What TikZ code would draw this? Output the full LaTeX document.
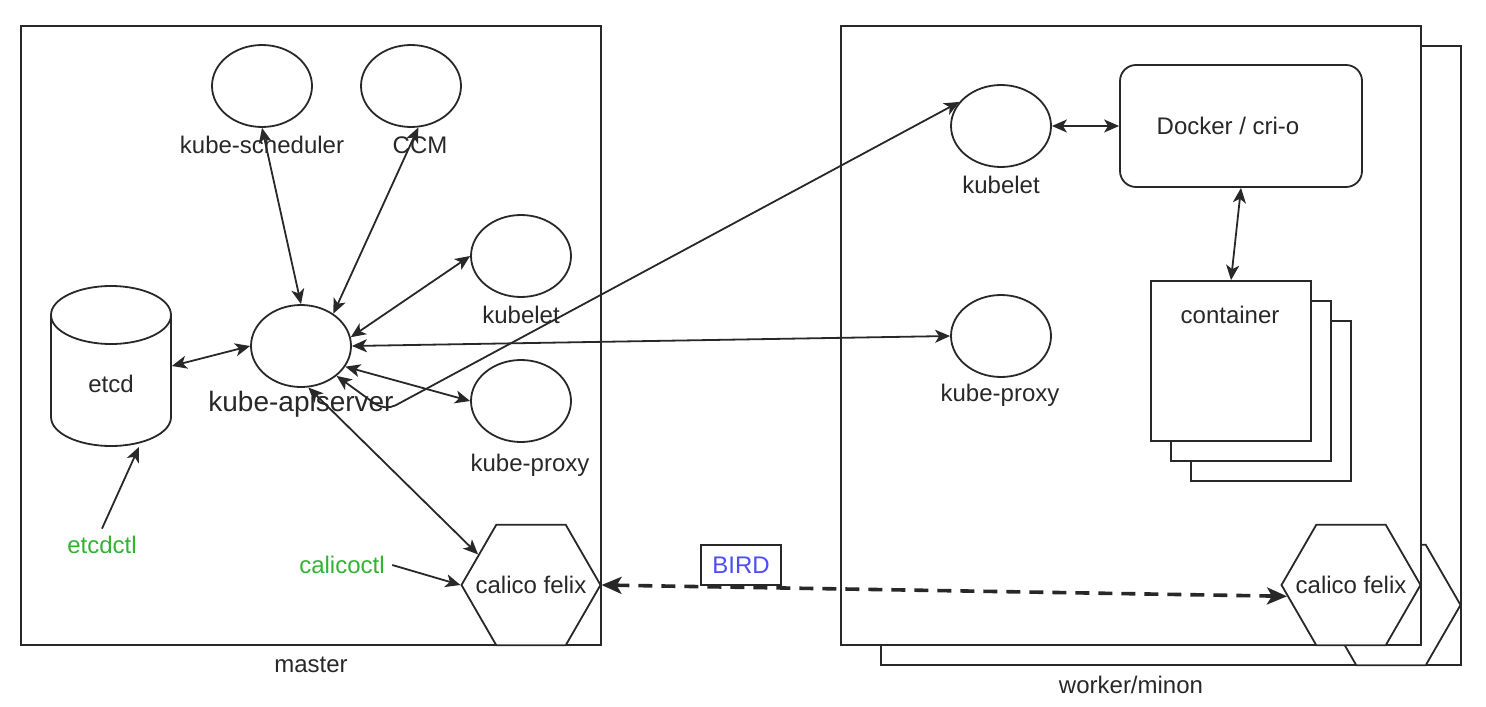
\documentclass[tikz,border=0pt]{standalone}
\usepackage{fontspec}
\setmainfont{Liberation Sans}
\usetikzlibrary{shapes.geometric, arrows.meta}
\definecolor{ink}{RGB}{40,40,40}
\definecolor{ctlgreen}{RGB}{51,178,51}
\definecolor{birdblue}{RGB}{77,77,255}

\begin{document}
\begin{tikzpicture}[x=0.5pt, y=-0.5pt, line width=0.9pt, color=ink,
	every node/.style={font=\fontsize{12}{14}\selectfont},
	ell/.style={ellipse, draw, minimum width=50pt, minimum height=41pt, inner sep=0pt},
	hexa/.style={regular polygon, regular polygon sides=6, draw, fill=white, minimum size=69.5pt, inner sep=0pt},
	arr/.style={-{Stealth[length=7.5pt,width=6.5pt,inset=2pt]}},
	biarr/.style={{Stealth[length=7.5pt,width=6.5pt,inset=2pt]}-{Stealth[length=7.5pt,width=6.5pt,inset=2pt]}},
	birdarr/.style={{Stealth[length=10pt,width=8.5pt,inset=2.5pt]}-{Stealth[length=10pt,width=8.5pt,inset=2.5pt]}, line width=1.8pt, dash pattern=on 7pt off 4.5pt},
	box/.style={line width=1pt}]
			\useasboundingbox (0,0) rectangle (1486,706);
			% master
			\draw[box] (21,26) rectangle (601,645);
			\node (masterT) at (311,665) {master};
			\node[ell] (sched) at (262,86) {};
			\node (schedT) at (262,145) {kube-scheduler};
			\node[ell] (ccm) at (411,86) {};
			\node (ccmT) at (420,145) {CCM};
			\node[ell] (api) at (301,346) {};
			\node[font=\fontsize{14}{16}\selectfont] (apiT) at (301,404) {kube-apiserver};
			\node[ell] (kubeletM) at (521,256) {};
			\node (kubeletMT) at (521,315) {kubelet};
			\node[ell] (proxyM) at (521,401) {};
			\node (proxyMT) at (530,465) {kube-proxy};
			\draw[fill=white] (51,315) -- (51,417) arc[start angle=180, end angle=360, x radius=30pt, y radius=14.5pt] -- (171,315);
			\draw (111,315) ellipse[x radius=30pt, y radius=14.5pt];
			\node[minimum width=60pt, minimum height=80pt, inner sep=0pt, label={[yshift=-9pt]center:etcd}] (etcd) at (111,366) {};
			\node[text=ctlgreen] (etcdctl) at (102,545) {etcdctl};
			\node[text=ctlgreen] (calicoctl) at (342,565) {calicoctl};
			\node[hexa, label=center:calico felix] (felixM) at (531,585) {};
			% worker, with the copy behind it
			\draw[box] (881,46) rectangle (1461,665);
			\node[hexa] (felixB) at (1391,605) {};
			\draw[box, fill=white] (841,26) rectangle (1421,645);
			\node (workerT) at (1131,685) {worker/minon};
			\node[hexa, label=center:calico felix] (felixW) at (1351,585) {};
			\node[ell] (kubeletW) at (1001,126) {};
			\node (kubeletWT) at (1001,185) {kubelet};
			\node[ell] (proxyW) at (1001,336) {};
			\node (proxyWT) at (1000,395) {kube-proxy};
			\node[draw, rounded corners=8pt, minimum width=121pt, minimum height=61pt, label={[xshift=-6.5pt]center:Docker / cri-o}] (docker) at (1241,126) {};
			\foreach \d in {40,20}
				\draw[fill=white] (1151+\d,281+\d) rectangle (1311+\d,441+\d);
			\node[draw, fill=white, minimum width=80pt, minimum height=80pt, inner sep=0pt] (cont) at (1231,361) {};
			\node (contT) at (1230,315) {container};
			\node[draw, fill=white, text=birdblue, minimum width=40pt, minimum height=20pt, inner sep=0pt] (bird) at (741,565) {BIRD};
			% connectors
			\draw[biarr] (api.west) -- (etcd.east);
			\draw[biarr] (sched.south) -- (api.north);
			\draw[biarr] (ccm.-80) -- (api.45);
			\draw[biarr] (kubeletM.west) -- (api.10);
			\draw[biarr] (proxyM.west) -- (api.-25);
			\draw[biarr] (api.east) -- (proxyW.west);
			\draw[biarr] (felixM.150) -- (api.-80);
			\draw[biarr, rounded corners=6pt] (api.-40) -- (385,411) -- (kubeletW.150);
			\draw[arr] (etcdctl.north) -- ([xshift=14pt]etcd.south);
			\draw[arr] (calicoctl.east) -- (felixM.west);
			\draw[biarr] (kubeletW.east) -- (docker.west);
			\draw[biarr] (docker.south) -- (cont.north);
			\draw[birdarr] (felixM.east) -- (felixW.190); % BIRD peering
		\end{tikzpicture}
\end{document}
